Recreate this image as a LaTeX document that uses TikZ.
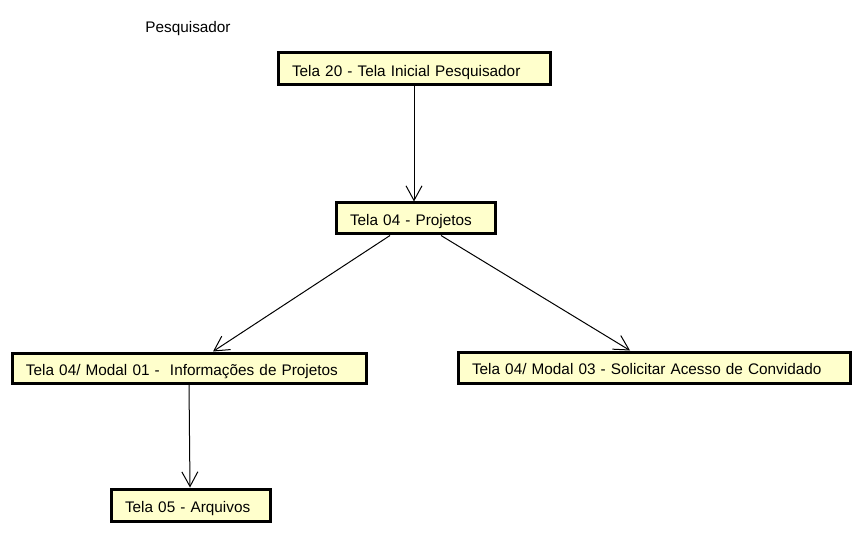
\documentclass[tikz,border=0pt]{standalone}
\usepackage{fontspec}
\setmainfont{Liberation Sans}
\usetikzlibrary{arrows.meta,calc}
\definecolor{boxfill}{HTML}{FFFFCC}
\begin{document}
\begin{tikzpicture}[x=0.75pt,y=-0.75pt,
  screen/.style={draw=black,fill=boxfill,line width=2.25pt,anchor=center,
    inner xsep=10.5pt,inner ysep=0pt,align=left,text height=11pt,text depth=0pt,
    font=\fontsize{11.5}{13}\selectfont},
  flow/.style={draw=black,line width=0.75pt,-{Straight Barb[length=11pt,width=12pt,line width=0.75pt]}}]
\useasboundingbox (0,0) rectangle (862,534);
\node[font=\fontsize{11.5}{13}\selectfont] (actor) at (188,29) {Pesquisador};
\node[screen,text width=183pt,minimum height=24pt] (b1) at (414,69) {Tela 20 - Tela Inicial Pesquisador};
\node[screen,text width=98.25pt,minimum height=23.25pt] (b2) at (415.5,218.5) {Tela 04 - Projetos};
\node[screen,text width=244.5pt,minimum height=22.5pt] (b3) at (189,368) {Tela 04/ Modal 01 -\ \ Informações de Projetos};
\node[screen,text width=273pt,minimum height=23.25pt] (b4) at (654,367.5) {Tela 04/ Modal 03 - Solicitar Acesso de Convidado};
\node[screen,text width=98.25pt,minimum height=24pt] (b5) at (190.5,505) {Tela 05 - Arquivos};
\draw[flow] (b1.south) -- ($(b2.north)+(-1.5,0)$);
\draw[flow] ($(b2.south)+(-25.5,0)$) -- ($(b3.north)+(24,0)$);
\draw[flow] ($(b2.south)+(25.5,0)$) -- ($(b4.north)+(-24,0)$);
\draw[flow] (b3.south) -- ($(b5.north)+(-0.5,0)$);
\end{tikzpicture}
\end{document}
